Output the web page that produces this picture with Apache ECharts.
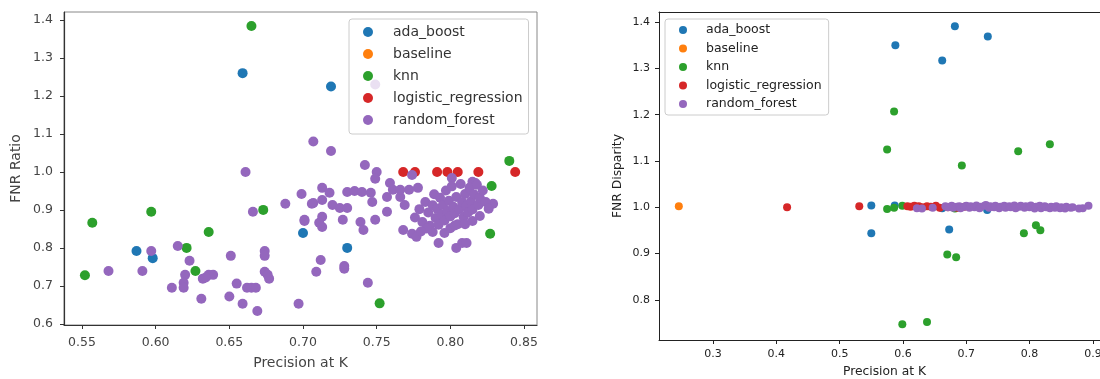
<!DOCTYPE html>
<html>
<head>
<meta charset="utf-8">
<script src="https://cdn.jsdelivr.net/npm/echarts@6.0.0/dist/echarts.min.js"></script>
<style>
  html, body { margin: 0; padding: 0; background: #fff; }
  #chart { width: 1100px; height: 379px; }
</style>
</head>
<body>
<div id="chart"></div>
<script>
// model names and matplotlib default colours
const seriesNames = ['ada_boost', 'baseline', 'knn', 'logistic_regression', 'random_forest'];
const seriesColors = ['#1f77b4', '#ff7f0e', '#2ca02c', '#d62728', '#9467bd'];

// left panel: precision at K vs FNR ratio
const ratioXTicks = [0.55, 0.60, 0.65, 0.70, 0.75, 0.80, 0.85];
const ratioYTicks = [0.6, 0.7, 0.8, 0.9, 1.0, 1.1, 1.2, 1.3, 1.4];

const ratioAdaBoost = [
  [0.659, 1.260], [0.719, 1.225], [0.587, 0.792], [0.598, 0.773], [0.700, 0.839], [0.730, 0.800]
];
const ratioBaseline = [];
const ratioKnn = [
  [0.665, 1.384], [0.557, 0.866], [0.552, 0.728], [0.597, 0.895], [0.636, 0.842], [0.621, 0.800],
  [0.627, 0.739], [0.673, 0.900], [0.752, 0.654], [0.827, 0.837], [0.828, 0.963], [0.840, 1.029]
];
const ratioLogReg = [
  [0.768, 1.000], [0.776, 1.000], [0.791, 1.000], [0.798, 1.000], [0.805, 1.000], [0.819, 1.000], [0.844, 1.000]
];
const ratioRandomForest = [
  [0.568, 0.739], [0.591, 0.739], [0.597, 0.792], [0.615, 0.805], [0.623, 0.766], [0.620, 0.729],
  [0.619, 0.708], [0.619, 0.695], [0.611, 0.695], [0.631, 0.666], [0.632, 0.719], [0.636, 0.729],
  [0.639, 0.729], [0.634, 0.722], [0.651, 0.779], [0.650, 0.672], [0.655, 0.706], [0.659, 0.653],
  [0.662, 0.695], [0.665, 0.695], [0.668, 0.695], [0.669, 0.634], [0.666, 0.895], [0.674, 0.792],
  [0.674, 0.779], [0.674, 0.737], [0.676, 0.729], [0.677, 0.719], [0.661, 1.000],
  [0.688, 0.916], [0.699, 0.942], [0.707, 1.080], [0.701, 0.871], [0.719, 1.055],
  [0.742, 1.018], [0.750, 1.000], [0.749, 0.982], [0.759, 0.971], [0.713, 0.958], [0.718, 0.945],
  [0.730, 0.947], [0.735, 0.950], [0.740, 0.947], [0.746, 0.945], [0.707, 0.918], [0.713, 0.926],
  [0.720, 0.913], [0.725, 0.905], [0.730, 0.905], [0.747, 0.921], [0.757, 0.934], [0.761, 0.953],
  [0.766, 0.934], [0.769, 0.913], [0.757, 0.895], [0.713, 0.882], [0.713, 0.855], [0.701, 0.874],
  [0.727, 0.874], [0.739, 0.868], [0.741, 0.847], [0.749, 0.874], [0.768, 0.847], [0.711, 0.866],
  [0.706, 0.916], [0.712, 0.768], [0.709, 0.737], [0.728, 0.752], [0.728, 0.745], [0.744, 0.708],
  [0.697, 0.653], [0.749, 1.230],
  [0.774, 0.837], [0.777, 0.829], [0.792, 0.813], [0.804, 0.800], [0.808, 0.813], [0.811, 0.813],
  [0.829, 0.916], [0.774, 0.992], [0.801, 0.984], [0.815, 0.974], [0.817, 0.971], [0.766, 0.953],
  [0.772, 0.953], [0.778, 0.958],
  [0.776, 0.880], [0.779, 0.902], [0.781, 0.868], [0.783, 0.921], [0.785, 0.893], [0.786, 0.858],
  [0.788, 0.912], [0.789, 0.941], [0.790, 0.879], [0.791, 0.903], [0.792, 0.861], [0.793, 0.932],
  [0.794, 0.888], [0.795, 0.913], [0.796, 0.872], [0.797, 0.951], [0.798, 0.897], [0.799, 0.924],
  [0.800, 0.883], [0.801, 0.962], [0.802, 0.908], [0.803, 0.891], [0.804, 0.934], [0.805, 0.862],
  [0.806, 0.902], [0.807, 0.968], [0.808, 0.921], [0.809, 0.881], [0.810, 0.942], [0.811, 0.911],
  [0.812, 0.893], [0.813, 0.958], [0.814, 0.922], [0.815, 0.901], [0.816, 0.941], [0.818, 0.966],
  [0.819, 0.913], [0.820, 0.932], [0.822, 0.951], [0.824, 0.921], [0.826, 0.903], [0.788, 0.842],
  [0.796, 0.839], [0.800, 0.852], [0.803, 0.859], [0.784, 0.851], [0.780, 0.843], [0.810, 0.862],
  [0.815, 0.871], [0.820, 0.884]
];

// right panel: precision at K vs FNR disparity
const dispXTicks = [0.3, 0.4, 0.5, 0.6, 0.7, 0.8, 0.9];
const dispYTicks = [0.8, 0.9, 1.0, 1.1, 1.2, 1.3, 1.4];

const dispAdaBoost = [
  [0.682, 1.391], [0.588, 1.350], [0.734, 1.369], [0.662, 1.317], [0.550, 1.004], [0.550, 0.944],
  [0.673, 0.952], [0.662, 0.998], [0.733, 0.994], [0.587, 1.004]
];
const dispBaseline = [[0.246, 1.002]];
const dispKnn = [
  [0.586, 1.207], [0.575, 1.125], [0.693, 1.090], [0.782, 1.121], [0.832, 1.136], [0.575, 0.996],
  [0.586, 0.999], [0.599, 1.003], [0.670, 0.898], [0.684, 0.892], [0.791, 0.944], [0.810, 0.961],
  [0.817, 0.950], [0.599, 0.747], [0.638, 0.752], [0.682, 0.997]
];
const dispLogReg = [
  [0.417, 1.000], [0.531, 1.002], [0.607, 1.002], [0.612, 1.001], [0.618, 1.003], [0.625, 1.002],
  [0.631, 1.000], [0.638, 1.002], [0.644, 1.001], [0.652, 1.003], [0.658, 0.999], [0.671, 1.000],
  [0.686, 0.999], [0.697, 1.001]
];
const dispRandomForest = [
  [0.622, 0.998], [0.630, 0.997], [0.647, 0.999], [0.667, 1.002], [0.671, 1.000], [0.677, 1.003],
  [0.679, 0.999], [0.685, 1.001], [0.689, 1.002], [0.691, 0.998], [0.697, 1.001], [0.700, 1.003],
  [0.705, 0.999], [0.707, 1.002], [0.713, 1.000], [0.716, 1.004], [0.721, 0.998], [0.723, 1.001],
  [0.729, 1.003], [0.731, 1.005], [0.736, 0.999], [0.738, 1.002], [0.744, 1.000], [0.746, 1.003],
  [0.752, 0.998], [0.754, 1.001], [0.760, 1.003], [0.762, 0.999], [0.768, 1.002], [0.770, 1.000],
  [0.776, 1.004], [0.778, 0.998], [0.784, 1.001], [0.786, 1.003], [0.792, 0.999], [0.794, 1.002],
  [0.800, 1.000], [0.802, 1.004], [0.808, 0.997], [0.810, 1.001], [0.816, 1.003], [0.818, 0.998],
  [0.824, 1.002], [0.826, 1.000], [0.832, 0.998], [0.834, 1.001], [0.840, 0.999], [0.842, 1.002],
  [0.848, 0.998], [0.850, 1.000], [0.856, 0.997], [0.858, 1.001], [0.865, 0.999], [0.868, 1.000],
  [0.878, 0.997], [0.884, 0.998], [0.893, 1.003]
];

const ratioData = [ratioAdaBoost, ratioBaseline, ratioKnn, ratioLogReg, ratioRandomForest];
const dispData = [dispAdaBoost, dispBaseline, dispKnn, dispLogReg, dispRandomForest];

const font = 'DejaVu Sans';

function buildSeries(dataList, axisIndex, size) {
  return dataList.map(function(data, i) {
    return {
      name: seriesNames[i],
      type: 'scatter',
      xAxisIndex: axisIndex,
      yAxisIndex: axisIndex,
      symbol: 'circle',
      symbolSize: size,
      itemStyle: {color: seriesColors[i], opacity: 1},
      data: data
    };
  });
}

const chart = echarts.init(document.getElementById('chart'), null, {renderer: 'canvas'});
chart.setOption({
  animation: false,
  textStyle: {fontFamily: font},
  grid: [
    {left: 64, top: 12, width: 473, height: 313, outerBoundsMode: 'none',
      show: true, borderColor: '#888', borderWidth: 1},
    {left: 659, top: 12, width: 451, height: 328, outerBoundsMode: 'none'}
  ],
  legend: [
    {
      orient: 'vertical', left: 349, top: 19, z: 10,
      data: seriesNames, icon: 'circle',
      itemWidth: 40, itemHeight: 10, itemGap: 5,
      padding: [4.5, 6, 5.5, 14],
      backgroundColor: 'rgba(255,255,255,0.8)',
      borderColor: '#ccc', borderWidth: 1, borderRadius: 3,
      textStyle: {fontFamily: font, fontSize: 14, lineHeight: 17, color: '#333'}
    },
    {
      orient: 'vertical', left: 665, top: 19, z: 10,
      data: seriesNames, icon: 'circle',
      itemWidth: 36, itemHeight: 8, itemGap: 3.5,
      padding: [3.5, 7, 3.5, 14],
      backgroundColor: 'rgba(255,255,255,0.8)',
      borderColor: '#ccc', borderWidth: 1, borderRadius: 3,
      textStyle: {fontFamily: font, fontSize: 12.5, lineHeight: 15, color: '#222'}
    }
  ],
  xAxis: [
    {
      gridIndex: 0, type: 'value', min: 0.5378, max: 0.8588,
      name: 'Precision at K', nameLocation: 'middle', nameGap: 31,
      nameTextStyle: {fontFamily: font, fontSize: 14, color: '#444'},
      axisLine: {show: true, onZero: false, lineStyle: {color: '#333', width: 1.2}},
      axisTick: {show: true, length: 4, customValues: ratioXTicks, lineStyle: {color: '#333'}},
      axisLabel: {customValues: ratioXTicks, margin: 11, fontSize: 12.5, color: '#444',
        formatter: function(v) { return v.toFixed(2); }},
      splitLine: {show: false}
    },
    {
      gridIndex: 1, type: 'value', min: 0.2147, max: 0.927,
      name: 'Precision at K', nameLocation: 'middle', nameGap: 26,
      nameTextStyle: {fontFamily: font, fontSize: 12.3, color: '#222'},
      axisLine: {show: true, onZero: false, lineStyle: {color: '#222', width: 1}},
      axisTick: {show: true, length: 4, customValues: dispXTicks, lineStyle: {color: '#222'}},
      axisLabel: {customValues: dispXTicks, margin: 9, fontSize: 11, color: '#222',
        formatter: function(v) { return v.toFixed(1); }},
      splitLine: {show: false}
    },
    {
      gridIndex: 1, type: 'value', position: 'top', min: 0.2147, max: 0.927,
      axisLine: {show: true, onZero: false, lineStyle: {color: '#222', width: 1}},
      axisTick: {show: false}, axisLabel: {show: false}, splitLine: {show: false}
    }
  ],
  yAxis: [
    {
      gridIndex: 0, type: 'value', min: 0.597, max: 1.421,
      name: 'FNR Ratio', nameLocation: 'middle', nameGap: 41,
      nameTextStyle: {fontFamily: font, fontSize: 14, color: '#444'},
      axisLine: {show: true, onZero: false, lineStyle: {color: '#333', width: 1.2}},
      axisTick: {show: true, length: 4, customValues: ratioYTicks, lineStyle: {color: '#333'}},
      axisLabel: {customValues: ratioYTicks, margin: 11, fontSize: 12.5, color: '#444',
        formatter: function(v) { return v.toFixed(1); }},
      splitLine: {show: false}
    },
    {
      gridIndex: 1, type: 'value', min: 0.713, max: 1.422,
      name: 'FNR Disparity', nameLocation: 'middle', nameGap: 35,
      nameTextStyle: {fontFamily: font, fontSize: 12.3, color: '#222'},
      axisLine: {show: true, onZero: false, lineStyle: {color: '#222', width: 1}},
      axisTick: {show: true, length: 4, customValues: dispYTicks, lineStyle: {color: '#222'}},
      axisLabel: {customValues: dispYTicks, margin: 9, fontSize: 11, color: '#222',
        formatter: function(v) { return v.toFixed(1); }},
      splitLine: {show: false}
    }
  ],
  series: buildSeries(ratioData, 0, 10).concat(buildSeries(dispData, 1, 8))
});
</script>
</body>
</html>
